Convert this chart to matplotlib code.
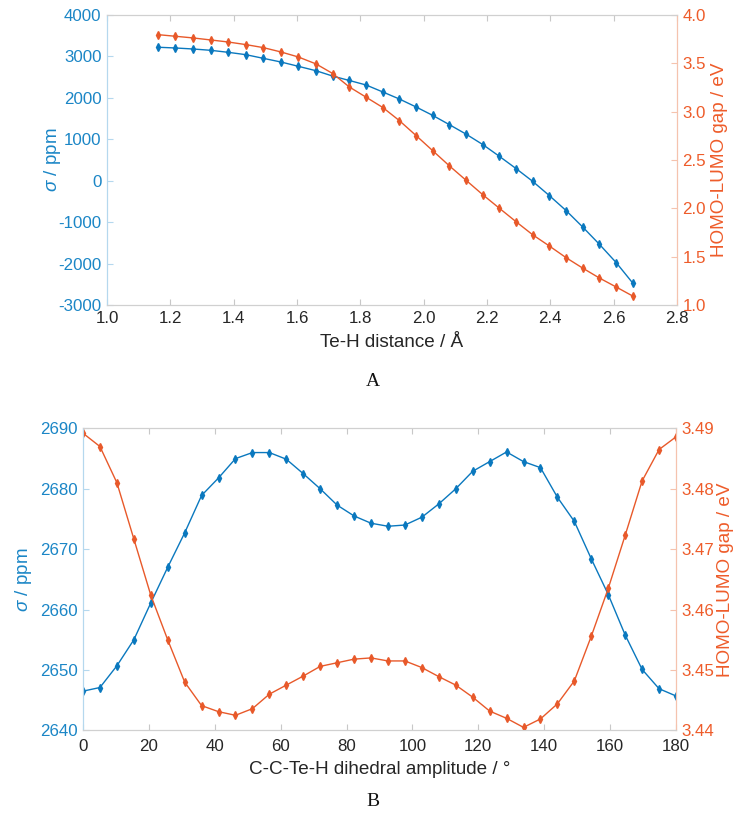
import matplotlib
matplotlib.use('Agg')
import matplotlib.pyplot as plt

plt.rcParams['font.family'] = ['Liberation Sans', 'DejaVu Sans']
plt.rcParams['mathtext.fontset'] = 'custom'
plt.rcParams['mathtext.it'] = 'Liberation Sans:italic'
plt.rcParams['mathtext.rm'] = 'Liberation Sans'
plt.rcParams['axes.unicode_minus'] = False

# --- panel A: Te-H distance scan ---
dist = [1.160, 1.216, 1.271, 1.327, 1.382, 1.438, 1.493, 1.549, 1.604, 1.660,
        1.713, 1.765, 1.818, 1.871, 1.923, 1.976, 2.028, 2.081, 2.134, 2.187,
        2.239, 2.292, 2.344, 2.397, 2.450, 2.502, 2.555, 2.608, 2.660]
sigma_a = [3222, 3204, 3180, 3148, 3100, 3043, 2955, 2866, 2762, 2655,
           2525, 2420, 2311, 2142, 1973, 1780, 1579, 1354, 1124, 871,
           589, 292, -14, -360, -722, -1116, -1535, -1977, -2468]
gap_a = [3.797, 3.780, 3.763, 3.742, 3.721, 3.694, 3.663, 3.618, 3.566, 3.494,
         3.394, 3.256, 3.150, 3.043, 2.908, 2.753, 2.598, 2.440, 2.290, 2.140,
         2.001, 1.861, 1.727, 1.610, 1.489, 1.382, 1.279, 1.186, 1.093]

# --- panel B: dihedral scan ---
dihedral = [0.0, 5.14, 10.29, 15.43, 20.57, 25.71, 30.86, 36.0, 41.14, 46.29,
            51.43, 56.57, 61.71, 66.86, 72.0, 77.14, 82.29, 87.43, 92.57, 97.71,
            102.86, 108.0, 113.14, 118.29, 123.43, 128.57, 133.71, 138.86, 144.0, 149.14,
            154.29, 159.43, 164.57, 169.71, 174.86, 180.0]
sigma_b = [2646.5, 2647.1, 2650.7, 2655.0, 2661.1, 2667.0, 2672.7, 2678.9, 2681.8, 2685.0,
           2686.0, 2686.0, 2684.9, 2682.5, 2680.0, 2677.3, 2675.5, 2674.3, 2673.8, 2674.0,
           2675.3, 2677.5, 2680.0, 2682.9, 2684.5, 2686.1, 2684.5, 2683.5, 2678.6, 2674.6,
           2668.4, 2662.5, 2655.8, 2650.1, 2646.9, 2645.7]
gap_b = [3.4892, 3.4870, 3.4810, 3.4717, 3.4624, 3.4550, 3.4480, 3.4441, 3.4431, 3.4425,
         3.4436, 3.4460, 3.4475, 3.4490, 3.4506, 3.4512, 3.4518, 3.4520, 3.4515, 3.4515,
         3.4504, 3.4489, 3.4475, 3.4455, 3.4432, 3.4420, 3.4405, 3.4419, 3.4444, 3.4482,
         3.4556, 3.4635, 3.4723, 3.4813, 3.4865, 3.4886]

BLUE = '#0A78BE'
ORANGE = '#E8592A'
BLUE_TXT = '#1B86C6'
ORANGE_TXT = '#EE5C2A'
GRAY_TXT = '#262626'
TICK_FS = 12.2
LABEL_FS = 13.6


def style_axes(ax, ax2):
    ax.tick_params(axis='both', direction='in', length=4, labelsize=TICK_FS)
    ax.tick_params(axis='x', top=True, colors='#C8C8C8', labelcolor=GRAY_TXT, pad=4)
    ax.tick_params(axis='y', colors='#B5D8EE', labelcolor=BLUE_TXT, pad=4)
    ax2.tick_params(axis='y', direction='in', length=4, labelsize=TICK_FS,
                    colors='#F5C3AE', labelcolor=ORANGE_TXT, pad=4)
    for a in (ax, ax2):
        a.spines['top'].set_color('#D0D0D0')
        a.spines['bottom'].set_color('#D0D0D0')
        a.spines['left'].set_color('#B5D8EE')
        a.spines['right'].set_color('#F5C3AE')
        for s in a.spines.values():
            s.set_linewidth(0.8)


fig = plt.figure(figsize=(7.46, 8.18), dpi=100)

# panel A
ax = fig.add_axes([107 / 746, 1 - 305 / 818, 570 / 746, 290 / 818])
ax2 = ax.twinx()
ax.plot(dist, sigma_a, color=BLUE, lw=1, marker='d', ms=4.2)
ax2.plot(dist, gap_a, color=ORANGE, lw=1, marker='d', ms=4.2)
ax.set_xlim(1.0, 2.8)
ax.set_ylim(-3000, 4000)
ax2.set_ylim(1.0, 4.0)
ax.set_xticks([1.0 + 0.2 * k for k in range(10)])
ax.set_xticklabels([f'{1.0 + 0.2 * k:.1f}' for k in range(10)])
ax.set_yticks(range(-3000, 4001, 1000))
ax2.set_yticks([1.0 + 0.5 * k for k in range(7)])
ax2.set_yticklabels([f'{1.0 + 0.5 * k:.1f}' for k in range(7)])
style_axes(ax, ax2)
ax.set_xlabel('Te-H distance / Å', fontsize=LABEL_FS, color=GRAY_TXT, va='center')
ax.xaxis.set_label_coords(0.5, -0.128)
ax.set_ylabel(r'$\it{\sigma}$ / ppm', fontsize=LABEL_FS, color=BLUE_TXT, va='center')
ax.yaxis.set_label_coords(-0.095, 0.5)
ax2.set_ylabel('HOMO-LUMO gap / eV', fontsize=LABEL_FS, color=ORANGE_TXT, va='center')
ax2.yaxis.set_label_coords(1.075, 0.5)
fig.text(373 / 746, 1 - 382 / 818, 'A', family='Liberation Serif', fontsize=14,
         ha='center', va='center', color='#111111')

# panel B
bx = fig.add_axes([83 / 746, 1 - 730.4 / 818, 593 / 746, 302 / 818])
bx2 = bx.twinx()
bx.plot(dihedral, sigma_b, color=BLUE, lw=1, marker='d', ms=4.2)
bx2.plot(dihedral, gap_b, color=ORANGE, lw=1, marker='d', ms=4.2)
bx.set_xlim(0, 180)
bx.set_ylim(2640, 2690)
bx2.set_ylim(3.44, 3.49)
bx.set_xticks(range(0, 181, 20))
bx.set_yticks(range(2640, 2691, 10))
bx2.set_yticks([3.44 + 0.01 * k for k in range(6)])
bx2.set_yticklabels([f'{3.44 + 0.01 * k:.2f}' for k in range(6)])
style_axes(bx, bx2)
bx.tick_params(axis='x', pad=6)
bx.set_xlabel('C-C-Te-H dihedral amplitude / °', fontsize=LABEL_FS, color=GRAY_TXT, va='center')
bx.xaxis.set_label_coords(0.5, -0.13)
bx.set_ylabel(r'$\it{\sigma}$ / ppm', fontsize=LABEL_FS, color=BLUE_TXT, va='center')
bx.yaxis.set_label_coords(-0.101, 0.5)
bx2.set_ylabel('HOMO-LUMO gap / eV', fontsize=LABEL_FS, color=ORANGE_TXT, va='center')
bx2.yaxis.set_label_coords(1.084, 0.5)
fig.text(373 / 746, 1 - 802 / 818, 'B', family='Liberation Serif', fontsize=14,
         ha='center', va='center', color='#111111')

fig.savefig('out.png', dpi=100)
